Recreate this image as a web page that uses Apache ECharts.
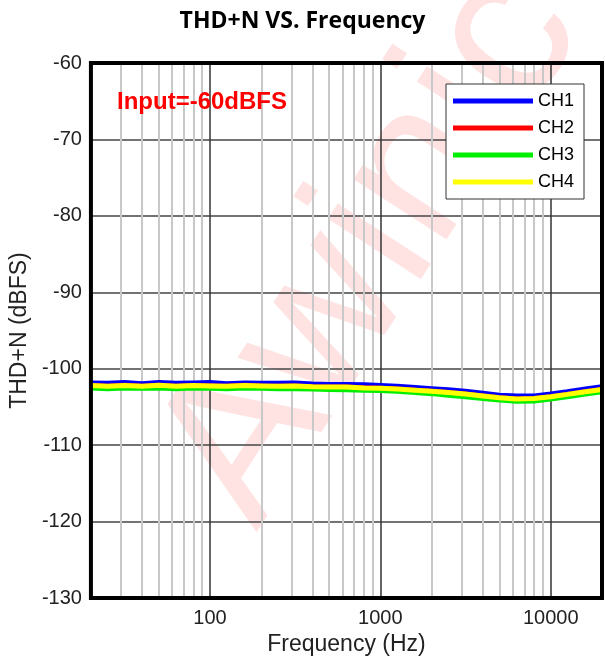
<!DOCTYPE html>
<html>
<head>
<meta charset="utf-8">
<script src="https://cdn.jsdelivr.net/npm/echarts@6/dist/echarts.min.js"></script>
<style>
html,body{margin:0;padding:0;background:#fff;}
#chart{width:605px;height:661px;}
</style>
</head>
<body>
<div id="chart"></div>
<script>
// ---- data ----
const freqs = [20,25,31.5,40,50,63,80,100,125,160,200,250,315,400,500,630,800,1000,1250,1600,2000,2500,3150,4000,5000,6300,8000,10000,12500,16000,20000];
const ch1 = [-101.75,-101.8,-101.7,-101.85,-101.7,-101.8,-101.75,-101.7,-101.85,-101.75,-101.8,-101.8,-101.75,-101.9,-101.95,-101.95,-102.0,-102.1,-102.2,-102.35,-102.5,-102.65,-102.85,-103.1,-103.35,-103.45,-103.45,-103.2,-102.9,-102.55,-102.25];
const ch2 = [-102.1,-102.2,-102.05,-102.2,-102.05,-102.2,-102.1,-102.15,-102.2,-102.05,-102.15,-102.2,-102.15,-102.25,-102.3,-102.3,-102.4,-102.45,-102.55,-102.7,-102.85,-103.0,-103.2,-103.45,-103.7,-103.85,-103.8,-103.55,-103.25,-102.9,-102.6];
const ch3 = [-102.6,-102.7,-102.6,-102.65,-102.6,-102.7,-102.6,-102.65,-102.7,-102.6,-102.65,-102.7,-102.7,-102.75,-102.8,-102.85,-102.9,-102.95,-103.05,-103.2,-103.35,-103.55,-103.75,-104.0,-104.2,-104.35,-104.3,-104.05,-103.75,-103.4,-103.1];
const ch4 = [-102.2,-102.3,-102.2,-102.3,-102.15,-102.3,-102.2,-102.25,-102.3,-102.2,-102.25,-102.3,-102.25,-102.35,-102.4,-102.4,-102.5,-102.55,-102.65,-102.8,-102.95,-103.1,-103.3,-103.55,-103.8,-103.95,-103.9,-103.65,-103.35,-103.0,-102.7];
const seriesNames = ['CH1','CH2','CH3','CH4'];
const seriesColors = ['#0000ff','#ff0000','#00ee00','#ffff00'];
const seriesWidths = [3.5,3.5,3.5,5];
const majorX = [100,1000,10000];
const minorX = [30,40,50,60,70,80,90,200,300,400,500,600,700,800,900,2000,3000,4000,5000,6000,7000,8000,9000];
const yTicks = {min:-130, max:-60, interval:10};

const chart = echarts.init(document.getElementById('chart'), null, {renderer:'canvas'});
const allData = [ch1,ch2,ch3,ch4];
const lineSeries = allData.map((arr,i)=>({
  name: seriesNames[i], type:'line', symbol:'none', z: 3+i,
  data: freqs.map((f,j)=>[f, arr[j]]),
  lineStyle:{color:seriesColors[i], width:seriesWidths[i]},
  itemStyle:{color:seriesColors[i], borderWidth:0},
  animation:false
}));
const gridSeries = {
  name:'grid', type:'line', data:[], z:1, silent:true,
  markLine:{
    z:1, silent:true, symbol:['none','none'], animation:false,
    label:{show:false},
    data: minorX.map(v=>({xAxis:v, lineStyle:{color:'#c8c8c8', width:2, type:'solid'}}))
      .concat(majorX.map(v=>({xAxis:v, lineStyle:{color:'#333', width:1.5, type:'solid'}})))
  }
};
const option = {
  animation:false,
  backgroundColor:'#fff',
  title:[
    {text:'THD+N VS. Frequency', left:'center', top:10, padding:0,
     textStyle:{fontFamily:'Open Sans', fontWeight:'bold', fontSize:23, color:'#000'}},
    {text:'Input=-60dBFS', left:117, top:90, padding:0,
     textStyle:{fontFamily:'Liberation Sans', fontWeight:'bold', fontSize:24, color:'#ff0000'}}
  ],
  graphic:[{
    type:'text', x:372, y:248, rotation: 57*Math.PI/180, z:-1, silent:true,
    style:{text:'Awinic', fontFamily:'Liberation Sans', fontSize:210, fill:'rgba(255,0,0,0.11)', align:'center', verticalAlign:'middle'}
  }],
  legend:{
    data:seriesNames.map((n,i)=>({name:n, icon:'rect', itemStyle:{color:seriesColors[i], borderWidth:0}})),
    orient:'vertical', left:446, top:84, z:20,
    padding:[8,10,8,7], itemGap:9, itemWidth:80, itemHeight:5, icon:'rect',
    itemStyle:{borderWidth:0},
    backgroundColor:'#fff', borderColor:'#333', borderWidth:1,
    textStyle:{fontFamily:'Liberation Sans', fontSize:18, color:'#000'}
  },
  grid:{left:87, right:3, top:63, bottom:59, show:true, z:10, borderColor:'#000', borderWidth:4, backgroundColor:'transparent'},
  xAxis:{
    type:'log', logBase:10, min:20, max:20000,
    name:'Frequency (Hz)', nameLocation:'middle', nameGap:32,
    nameTextStyle:{fontFamily:'Liberation Sans', fontSize:23, color:'#222'},
    axisLine:{show:false}, axisTick:{show:false}, splitLine:{show:false},
    axisLabel:{fontFamily:'Liberation Sans', fontSize:20, color:'#222', margin:10,
      formatter:(v)=>{const l=Math.log10(v); return Math.abs(l-Math.round(l))<1e-6 ? String(Math.round(v)) : '';}}
  },
  yAxis:{
    type:'value', min:yTicks.min, max:yTicks.max, interval:yTicks.interval,
    name:'THD+N (dBFS)', nameLocation:'middle', nameGap:54,
    nameTextStyle:{fontFamily:'Liberation Sans', fontSize:23, color:'#222'},
    axisLine:{show:false}, axisTick:{show:false},
    splitLine:{show:true, lineStyle:{color:'#444', width:1.5}},
    axisLabel:{fontFamily:'Liberation Sans', fontSize:20, color:'#222', margin:9}
  },
  series:[gridSeries].concat(lineSeries)
};
chart.setOption(option);
</script>
</body>
</html>
